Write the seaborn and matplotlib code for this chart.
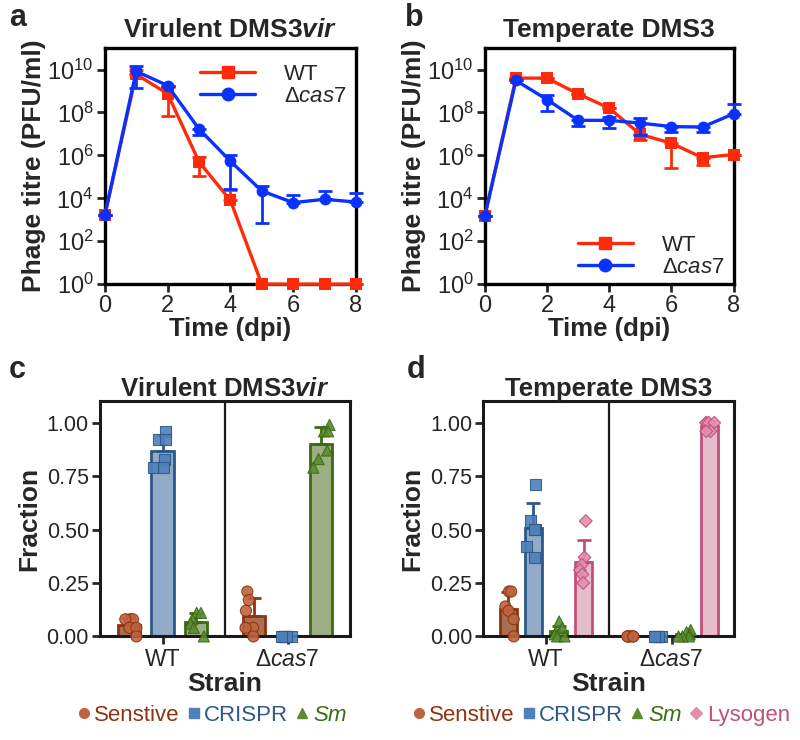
import numpy as np
import matplotlib
matplotlib.use("Agg")
import matplotlib.pyplot as plt
import seaborn as sns
import pandas as pd
from matplotlib.lines import Line2D
from matplotlib.ticker import FixedLocator, NullLocator, FormatStrFormatter

# %%
# top panels: phage titre over time (means, lower/upper error ends)
days = [0, 1, 2, 3, 4, 5, 6, 7, 8]

vir_wt = [1.6e3, 6e9, 7.5e8, 5e5, 8e3, 1, 1, 1, 1]
vir_wt_lo = [1.6e3, 6e9, 7e7, 1.1e5, 8e3, 1, 1, 1, 1]
vir_wt_hi = [1.6e3, 1e10, 1.5e9, 8e5, 2.4e4, 1, 1, 1, 1]
vir_ko = [1.6e3, 8.3e9, 1.8e9, 1.7e7, 5.4e5, 2.2e4, 6.3e3, 9e3, 6.7e3]
vir_ko_lo = [1.6e3, 1.35e9, 1.8e9, 8.5e6, 2.8e4, 7e2, 6.3e3, 9e3, 6.7e3]
vir_ko_hi = [1.6e3, 1.4e10, 1.8e9, 1.7e7, 1e6, 3.7e4, 1.5e4, 2.1e4, 1.7e4]

tem_wt = [1.5e3, 4e9, 4e9, 7.4e8, 1.6e8, 9.5e6, 3.7e6, 7.8e5, 1.1e6]
tem_wt_lo = [1.5e3, 4e9, 4e9, 7.4e8, 1.6e8, 5.4e6, 2.7e5, 3.7e5, 1.1e6]
tem_wt_hi = [1.5e3, 4e9, 4e9, 7.4e8, 1.6e8, 9.5e6, 3.7e6, 7.8e5, 1.1e6]
tem_ko = [1.5e3, 3.1e9, 4e8, 4.3e7, 4.3e7, 3.2e7, 2.2e7, 2.1e7, 8.7e7]
tem_ko_lo = [1.5e3, 3.1e9, 1.2e8, 2.3e7, 1.9e7, 8.5e6, 1.2e7, 1.2e7, 8.7e7]
tem_ko_hi = [1.5e3, 3.1e9, 6.2e8, 4.3e7, 6e7, 5.5e7, 2.2e7, 2.1e7, 2.5e8]

# bottom panels: fraction of each resistance type, 6 replicates
strains = ["WT", "Δcas7"]
types = ["Senstive", "CRISPR", "Sm", "Lysogen"]

vir_frac = {
    ("WT", "Senstive"): [0.08, 0.08, 0.08, 0.04, 0.04, 0.0],
    ("WT", "CRISPR"): [0.96, 0.92, 0.92, 0.83, 0.79, 0.79],
    ("WT", "Sm"): [0.11, 0.11, 0.08, 0.06, 0.04, 0.0],
    ("Δcas7", "Senstive"): [0.21, 0.17, 0.12, 0.04, 0.04, 0.0],
    ("Δcas7", "CRISPR"): [0.0, 0.0, 0.0, 0.0, 0.0, 0.0],
    ("Δcas7", "Sm"): [0.99, 0.96, 0.96, 0.87, 0.83, 0.79],
}
tem_frac = {
    ("WT", "Senstive"): [0.21, 0.21, 0.14, 0.12, 0.08, 0.0],
    ("WT", "CRISPR"): [0.71, 0.54, 0.50, 0.50, 0.42, 0.37],
    ("WT", "Sm"): [0.07, 0.04, 0.02, 0.01, 0.0, 0.0],
    ("WT", "Lysogen"): [0.54, 0.37, 0.335, 0.31, 0.29, 0.25],
    ("Δcas7", "Senstive"): [0.0, 0.0, 0.0, 0.0, 0.0, 0.0],
    ("Δcas7", "CRISPR"): [0.0, 0.0, 0.0, 0.0, 0.0, 0.0],
    ("Δcas7", "Sm"): [0.03, 0.02, 0.01, 0.0, 0.0, 0.0],
    ("Δcas7", "Lysogen"): [1.0, 1.0, 1.0, 1.0, 0.96, 0.96],
}

fill = {"Senstive": "#b86a45", "CRISPR": "#88a9d0", "Sm": "#9db57c", "Lysogen": "#ecb5c8"}
edge = {"Senstive": "#8c3510", "CRISPR": "#2d5887", "Sm": "#3c6a14", "Lysogen": "#c0507c"}
mark = {"Senstive": "#bf6440", "CRISPR": "#4f80bb", "Sm": "#5b8b2e", "Lysogen": "#e48dad"}
txt = {"Senstive": "#8c3510", "CRISPR": "#2d5887", "Sm": "#3c6a14", "Lysogen": "#c0507c"}
shape = {"Senstive": "o", "CRISPR": "s", "Sm": "^", "Lysogen": "D"}
shape_size = {"Senstive": 8, "CRISPR": 8, "Sm": 8, "Lysogen": 6.5}
label = {"Senstive": "Senstive", "CRISPR": "CRISPR", "Sm": r"$\it{Sm}$", "Lysogen": "Lysogen"}

red = "#ff2a0a"
blue = "#0a32ff"

# %%
sns.set_style("ticks")
plt.rcParams["font.family"] = ["Liberation Sans", "DejaVu Sans"]
plt.rcParams["mathtext.fontset"] = "custom"
plt.rcParams["mathtext.rm"] = "Liberation Sans"
plt.rcParams["mathtext.it"] = "Liberation Sans:italic"
plt.rcParams["mathtext.bf"] = "Liberation Sans:bold:italic"
plt.rcParams["mathtext.default"] = "regular"

fig = plt.figure(figsize=(8, 7.4), dpi=100)
ax_a = fig.add_axes([0.131, 0.616, 0.314, 0.319])
ax_b = fig.add_axes([0.606, 0.616, 0.311, 0.319])
ax_c = fig.add_axes([0.125, 0.140, 0.3125, 0.3176])
ax_d = fig.add_axes([0.604, 0.140, 0.314, 0.3176])


def titre_panel(ax, wt, wt_lo, wt_hi, ko, ko_lo, ko_hi, title, loc, anchor):
    for y, lo, hi, col, m in [(wt, wt_lo, wt_hi, red, "s"), (ko, ko_lo, ko_hi, blue, "o")]:
        y = np.array(y)
        sns.lineplot(x=days, y=y, color=col, marker=m, markersize=8 if m == "s" else 8.5,
                     markeredgewidth=0, lw=2.4, ax=ax, clip_on=False, zorder=3)
        ax.errorbar(days, y, yerr=[y - np.array(lo), np.array(hi) - y], fmt="none",
                    ecolor=col, elinewidth=2, capsize=5, capthick=2, clip_on=False, zorder=3)
    ax.set_yscale("log")
    ax.set_ylim(1, 1e11)
    ax.set_xlim(0, 8)
    ax.yaxis.set_major_locator(FixedLocator([1e0, 1e2, 1e4, 1e6, 1e8, 1e10]))
    ax.yaxis.set_minor_locator(NullLocator())
    ax.set_xticks([0, 2, 4, 6, 8])
    ax.tick_params(labelsize=17, width=2, length=6, direction="out", pad=2)
    for s in ax.spines.values():
        s.set_linewidth(2.4)
        s.set_color("black")
    ax.set_xlabel("Time (dpi)", fontsize=18.5, fontweight="bold", labelpad=0)
    ax.set_ylabel("Phage titre (PFU/ml)", fontsize=19, fontweight="bold", labelpad=1)
    ax.set_title(title, fontsize=19, fontweight="bold", pad=8)
    handles = [Line2D([], [], color=red, marker="s", lw=2.4, markersize=9),
               Line2D([], [], color=blue, marker="o", lw=2.4, markersize=9)]
    ax.legend(handles, ["WT", r"Δ$\it{cas7}$"], loc=loc, bbox_to_anchor=anchor,
              frameon=False, fontsize=16, handlelength=2.5, handletextpad=1.3,
              labelspacing=0.05, borderaxespad=0)


titre_panel(ax_a, vir_wt, vir_wt_lo, vir_wt_hi, vir_ko, vir_ko_lo, vir_ko_hi,
            r"Virulent DMS3$\bf{vir}$", "upper right", (1.0, 0.97))
titre_panel(ax_b, tem_wt, tem_wt_lo, tem_wt_hi, tem_ko, tem_ko_lo, tem_ko_hi,
            "Temperate DMS3", "lower right", (1.0, -0.01))


def fraction_panel(ax, frac, kinds, title, leg_x):
    rows = []
    for (st, t), vals in frac.items():
        for v in vals:
            rows.append({"strain": st, "type": t, "fraction": v})
    df = pd.DataFrame(rows)
    sns.barplot(df, x="strain", y="fraction", hue="type", order=strains, hue_order=kinds,
                palette=fill, errorbar=None, width=0.8, gap=0.33, linewidth=2,
                ax=ax, legend=False, zorder=1)
    stats = df.groupby(["type", "strain"])["fraction"].agg(["mean", "std"])
    for cont, t in zip(ax.containers, kinds):
        for bar, st in zip(cont, strains):
            bar.set_edgecolor(edge[t])
            bar.set_clip_on(False)
            m, sd = stats.loc[(t, st)]
            if sd > 0.02:
                xc = bar.get_x() + bar.get_width() / 2
                ax.errorbar([xc], [m], yerr=[[0], [sd]], fmt="none", ecolor=edge[t],
                            elinewidth=2, capsize=5, capthick=2, zorder=2)
    np.random.seed(3)
    for t in kinds:
        sns.stripplot(df[df.type == t], x="strain", y="fraction", hue="type", order=strains,
                      hue_order=kinds, palette=mark, dodge=True, jitter=0.22,
                      marker=shape[t], size=shape_size[t], linewidth=0.8, edgecolor=edge[t],
                      alpha=0.9, ax=ax, legend=False, zorder=3)
    for coll in ax.collections:
        if len(coll.get_offsets()):
            coll.set_clip_on(False)
    ax.axvline(0.5, color="#1a1a1a", lw=1.6, zorder=0)
    ax.set_xlim(-0.5, 1.5)
    ax.set_ylim(0, 1.1)
    ax.set_yticks([0, 0.25, 0.5, 0.75, 1.0])
    ax.yaxis.set_major_formatter(FormatStrFormatter("%.2f"))
    ax.set_xticks([0, 1])
    ax.set_xticklabels(["WT", r"Δ$\it{cas7}$"])
    ax.tick_params(axis="y", labelsize=15.5, width=2, length=6, pad=2)
    ax.tick_params(axis="x", labelsize=16.5, width=2, length=6, pad=2)
    for s in ax.spines.values():
        s.set_linewidth(2.2)
        s.set_color("#1a1a1a")
    ax.set_xlabel("Strain", fontsize=19, fontweight="bold", labelpad=1)
    ax.set_ylabel("Fraction", fontsize=19, fontweight="bold", labelpad=4)
    ax.set_title(title, fontsize=18.5, fontweight="bold", pad=4)
    handles = [Line2D([], [], marker=shape[t], color=mark[t], ls="", markersize=7 if t != "Lysogen" else 6)
               for t in kinds]
    ax.legend(handles, [label[t] for t in kinds], loc="upper center",
              bbox_to_anchor=(leg_x, -0.29), ncol=len(kinds), frameon=False, fontsize=16,
              handletextpad=0.2, columnspacing=0.35, handlelength=0.55,
              labelcolor=[txt[t] for t in kinds], borderaxespad=0, borderpad=0)


fraction_panel(ax_c, vir_frac, types[:3], r"Virulent DMS3$\bf{vir}$", 0.45)
fraction_panel(ax_d, tem_frac, types, "Temperate DMS3", 0.47)

for lab, x, y in [("a", 0.022, 0.975), ("b", 0.518, 0.975), ("c", 0.022, 0.5), ("d", 0.52, 0.5)]:
    fig.text(x, y, lab, fontsize=22, fontweight="bold", ha="center", va="center")

plt.savefig("out.png", dpi=100)
